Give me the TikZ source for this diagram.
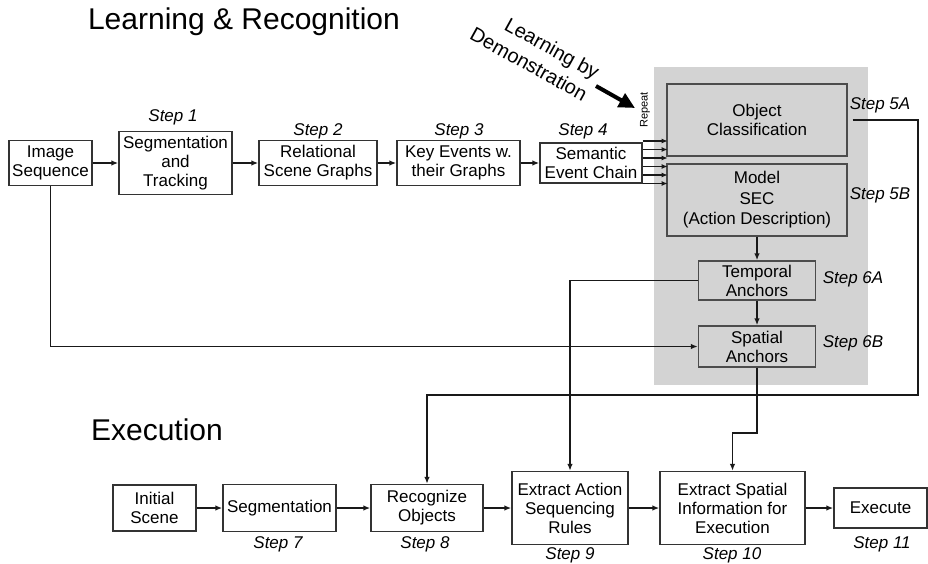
\documentclass[tikz,border=0pt]{standalone}
\usepackage{fontspec}
\setmainfont{Liberation Sans}
\usetikzlibrary{arrows.meta}
\definecolor{panelgray}{RGB}{211,211,211}

\begin{document}
\begin{tikzpicture}[x=1pt,y=-1pt,
   box/.style={rectangle,draw=black!80,line width=1.4pt,align=center,inner sep=1pt,
    font=\fontsize{17}{19}\selectfont},
   inbox/.style={box,draw=black!70,fill=panelgray},
   steplbl/.style={font=\fontsize{17}{19}\selectfont\itshape,inner sep=0pt},
   title/.style={font=\fontsize{30}{36}\selectfont,inner sep=0pt},
   link/.style={line width=1.5pt,draw=black!90,-{Latex[length=7pt,width=5.5pt]}}
    ]

    \useasboundingbox (0,0) rectangle (928,563);

    % Titles:
    \node[title] at (244,22) (tlearn) {Learning \& Recognition};
    \node[title] at (157,430) (texec) {Execution};

    % gray panel:
    \fill[panelgray] (654,67) rectangle (868,385);

    % Boxes, learning:
    \node[box,minimum width=83pt,minimum height=45pt] at (50.5,163) (img) {Image\\Sequence};
    \node[box,minimum width=113pt,minimum height=63pt] at (175.5,163) (seg) {Segmentation\\and\\Tracking};
    \node[box,minimum width=118pt,minimum height=45pt] at (318,163) (rel) {Relational\\Scene Graphs};
    \node[box,minimum width=123pt,minimum height=45pt] at (458.5,163) (key) {Key Events w.\\their Graphs};
    \node[box,minimum width=102pt,minimum height=40pt] at (591,163) (sec) {Semantic\\Event Chain};

    \node[inbox,minimum width=180pt,minimum height=72pt] at (757,120) (obj) {Object\\Classification};
    \node[inbox,minimum width=180pt,minimum height=72pt,
      font=\fontsize{17}{20.5}\selectfont] at (757,200) (model) {Model\\SEC\\(Action Description)};
    \node[inbox,minimum width=117pt,minimum height=39pt] at (757,280.5) (temp) {Temporal\\Anchors};
    \node[inbox,minimum width=117pt,minimum height=41pt] at (757,346.5) (spat) {Spatial\\Anchors};

    % Boxes, execution:
    \node[box,minimum width=83pt,minimum height=46pt] at (154.5,508) (init) {Initial\\Scene};
    \node[box,minimum width=113pt,minimum height=47pt] at (279.5,508) (seg2) {Segmentation};
    \node[box,minimum width=112pt,minimum height=47pt] at (427,508) (rec) {Recognize\\Objects};
    \node[box,minimum width=116pt,minimum height=73pt] at (570,508) (act) {Extract Action\\Sequencing\\Rules};
    \node[box,minimum width=145pt,minimum height=73pt] at (732.5,508) (spi) {Extract Spatial\\Information for\\Execution};
    \node[box,minimum width=93pt,minimum height=40pt] at (880.5,508) (exe) {Execute};

    % Steps:
    \node[steplbl] at (173,117) (s1) {Step 1};
    \node[steplbl] at (318,131) (s2) {Step 2};
    \node[steplbl] at (459,131) (s3) {Step 3};
    \node[steplbl] at (583,131) (s4) {Step 4};
    \node[steplbl] at (880,105) (s5a) {Step 5A};
    \node[steplbl] at (880,195) (s5b) {Step 5B};
    \node[steplbl] at (853,279) (s6a) {Step 6A};
    \node[steplbl] at (853,343) (s6b) {Step 6B};
    \node[steplbl] at (278,544) (s7) {Step 7};
    \node[steplbl] at (425,544) (s8) {Step 8};
    \node[steplbl] at (570,555) (s9) {Step 9};
    \node[steplbl] at (732,555) (s10) {Step 10};
    \node[steplbl] at (882,544) (s11) {Step 11};

    % learning by demonstration / repeat
    \node[rotate=-29,align=right,inner sep=0pt,
      font=\fontsize{20}{25}\selectfont] at (535,53) (lbd) {Learning by\\Demonstration};
    \node[rotate=90,inner sep=0pt,font=\fontsize{11}{13}\selectfont] at (645,110) (rep) {Repeat};
    \coordinate (bigtail) at (596,86);
    \coordinate (bighead) at (635,108);
    \draw[line width=4pt,-{Triangle[length=16pt,width=15pt]}] (bigtail) -- (bighead);

    % arrows
    \draw[link] (img) -- (seg);
    \draw[link] (seg) -- (rel);
    \draw[link] (rel) -- (key);
    \draw[link] (key) -- (sec);
    \foreach \d in {22,13.5,5,-3.5,-12,-20.5}
      \draw[link,line width=1.2pt,-{Latex[length=6pt,width=5pt]}] ([yshift=\d pt]sec.east) -- ++(25,0);

    \draw[link] (model) -- (temp);
    \draw[link] (temp) -- (spat);
    \draw[link] (temp.west) -| (act.north);
    \draw[link] (img.south) |- (spat.west);
    \coordinate (spjog) at (757,433);
    \draw[link] (spat.south) -- (spjog) -| (spi.north);
    \coordinate (loopc) at (918,395);
    \draw[link] ([xshift=5pt]obj.east) -| (loopc) -| (rec.north);

    \draw[link] (init) -- (seg2);
    \draw[link] (seg2) -- (rec);
    \draw[link] (rec) -- (act);
    \draw[link] (act) -- (spi);
    \draw[link] (spi) -- (exe);

\end{tikzpicture}
\end{document}
